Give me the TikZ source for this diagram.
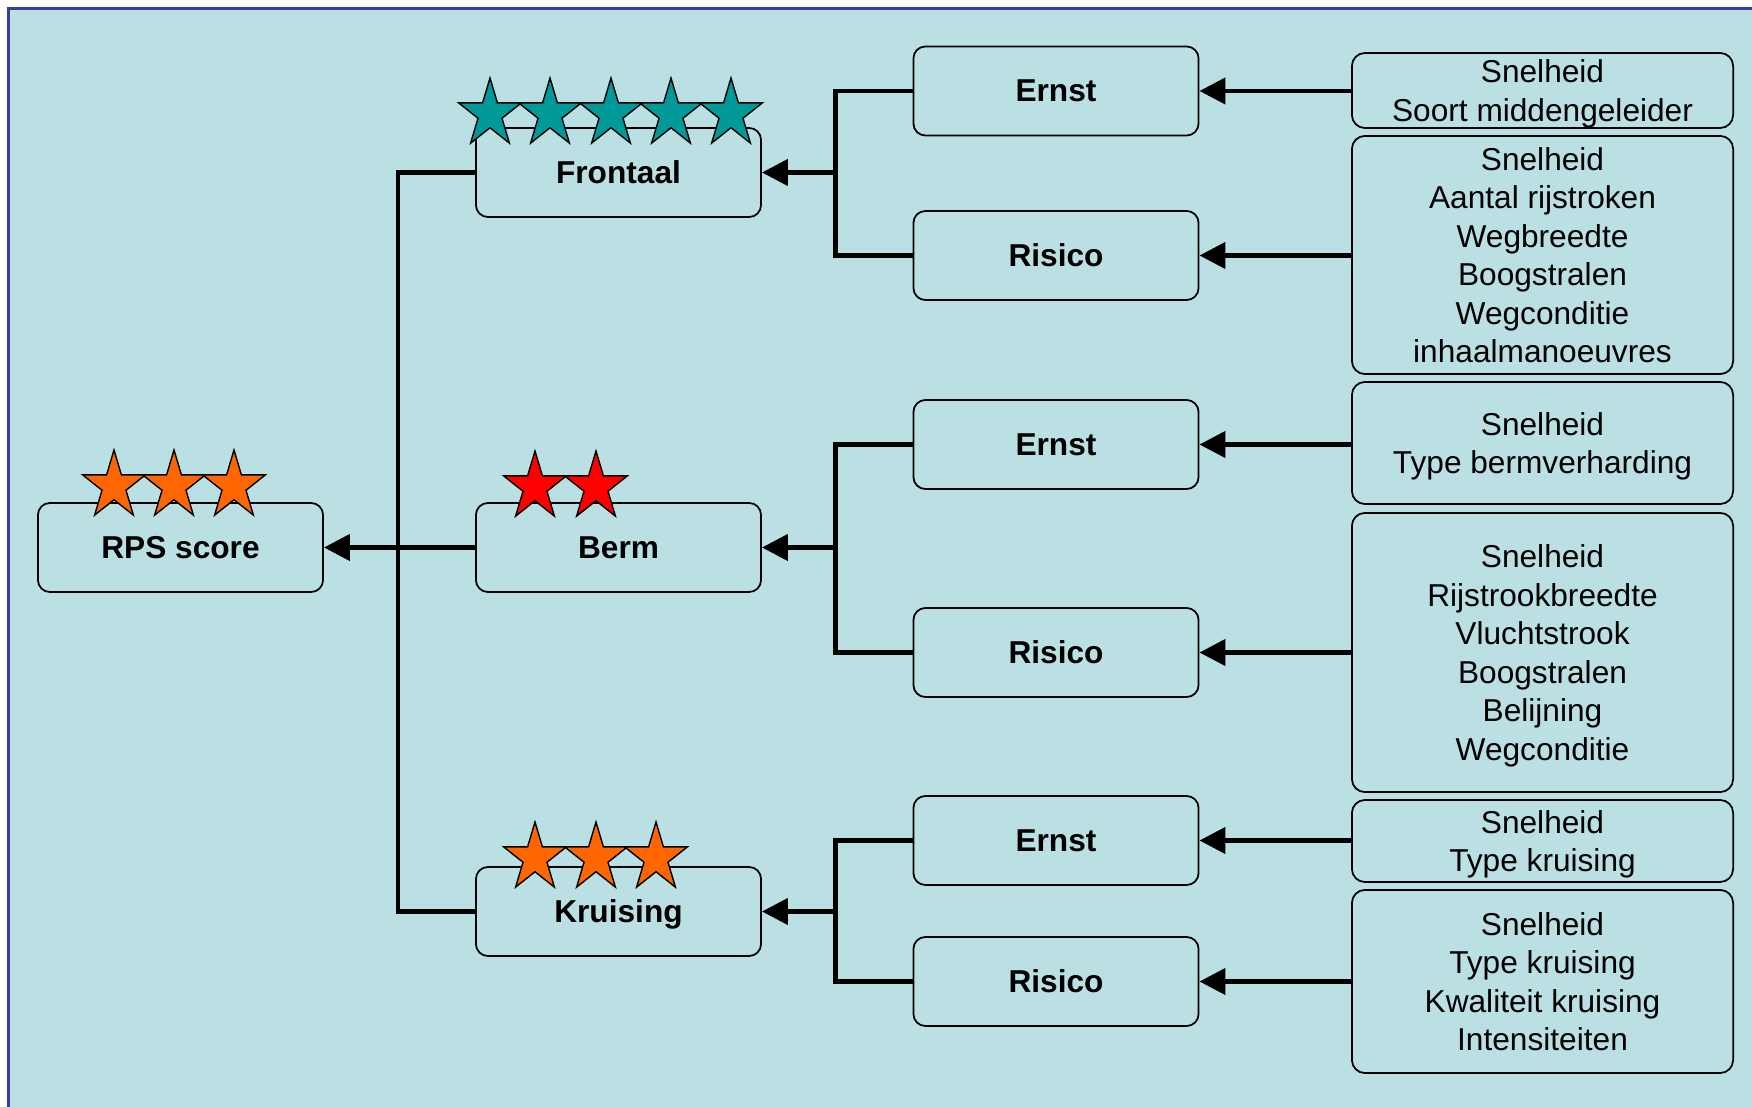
\documentclass[tikz,border=0pt]{standalone}
\usepackage{fontspec}
\setmainfont{Liberation Sans}
\usetikzlibrary{%
  arrows.meta,%
  calc%
}
\definecolor{achtergrond}{RGB}{187,224,227}
\definecolor{kader}{RGB}{60,60,160}
\definecolor{sterteal}{RGB}{0,153,153}
\definecolor{sterorange}{RGB}{255,102,0}
\definecolor{sterrood}{RGB}{255,0,0}
\tikzset{>={Triangle[length=0.26cm,width=0.26cm]},%
  lijn/.style={line width=0.045cm},%
  blok/.style={draw,line width=0.5pt,rounded corners=0.12cm,
    minimum width=2.85cm,minimum height=0.89cm,inner sep=0pt,
    text depth=0pt,font=\fontsize{9}{11}\selectfont\bfseries},%
  factor/.style={draw,line width=0.5pt,rounded corners=0.13cm,
    minimum width=3.81cm,inner sep=0pt,text depth=0pt,align=center,
    font=\fontsize{9}{10.93}\selectfont}}
% ster op (x,y) met kleur
\newcommand\ster[3]{%
  \draw[fill=#3,line width=0.4pt] plot[samples at={0,...,9}]
    ({#1+ifthenelse(mod(\x,2)==0,33,12.6)*cos(90+36*\x)},
     {#2-ifthenelse(mod(\x,2)==0,36,13.75)*sin(90+36*\x)}) -- cycle;}

\begin{document}
\begin{tikzpicture}[x=0.01cm,y=-0.01cm]
    \useasboundingbox (0,0) rectangle (1752,1107);
    \clip (0,0) rectangle (1752,1107);
    \fill[white] (0,0) rectangle (1752,1107);
    \draw[kader,fill=achtergrond,line width=0.03cm] (8.5,8.5) rectangle (1800,1150);
    % hoofdblokken
    \node[blok] (rps) at (180.5,547.5) {RPS score};
    \node[blok] (frontaal) at (618.5,172.5) {Frontaal};
    \node[blok] (berm) at (618.5,547.5) {Berm};
    \node[blok] (kruising) at (618.5,911.5) {Kruising};
    \node[blok] (e1) at (1056,91) {Ernst};
    \node[blok] (r1) at (1056,255.5) {Risico};
    \node[blok] (e2) at (1056,444.5) {Ernst};
    \node[blok] (r2) at (1056,652.5) {Risico};
    \node[blok] (e3) at (1056,840.5) {Ernst};
    \node[blok] (r3) at (1056,981.5) {Risico};
    % factoren
    \node[factor,minimum height=0.75cm] (f1) at (1542.5,90.5)
    {Snelheid\\Soort middengeleider};
    \node[factor,minimum height=2.38cm] (f2) at (1542.5,255)
    {Snelheid\\Aantal rijstroken\\Wegbreedte\\Boogstralen\\Wegconditie\\inhaalmanoeuvres};
    \node[factor,minimum height=1.22cm] (f3) at (1542.5,443)
    {Snelheid\\Type bermverharding};
    \node[factor,minimum height=2.79cm] (f4) at (1542.5,652.5)
    {Snelheid\\Rijstrookbreedte\\Vluchtstrook\\Boogstralen\\Belijning\\Wegconditie};
    \node[factor,minimum height=0.82cm] (f5) at (1542.5,841)
    {Snelheid\\Type kruising};
    \node[factor,minimum height=1.83cm] (f6) at (1542.5,981.5)
    {Snelheid\\Type kruising\\Kwaliteit kruising\\Intensiteiten};
    % pijlen factoren -> ernst/risico
    \foreach \f/\b in {f1/e1,f2/r1,f3/e2,f4/r2,f5/e3,f6/r3}
    {\draw[lijn,->] (\b.east -| \f.west) -- (\b.east);}
    % takken
    \draw[lijn] (e1.west) -- ++(-77,0) coordinate (j1) |- (r1.west);
    \draw[lijn,->] (j1 |- frontaal.east) -- (frontaal.east);
    \draw[lijn] (e2.west) -- ++(-77,0) coordinate (j2) |- (r2.west);
    \draw[lijn,->] (j2 |- berm.east) -- (berm.east);
    \draw[lijn] (e3.west) -- ++(-77,0) coordinate (j3) |- (r3.west);
    \draw[lijn,->] (j3 |- kruising.east) -- (kruising.east);
    \draw[lijn] (frontaal.west) -- ++(-77,0) |- (kruising.west);
    \draw[lijn,->] (berm.west) -- (rps.east);
    % sterren
    \foreach \sx in {114,174,234} {\ster{\sx}{486}{sterorange}}
    \foreach \sx in {490,550,611,671,731} {\ster{\sx}{114}{sterteal}}
    \foreach \sx in {535,596} {\ster{\sx}{487}{sterrood}}
    \foreach \sx in {535,596,656} {\ster{\sx}{858}{sterorange}}
  \end{tikzpicture}
\end{document}
